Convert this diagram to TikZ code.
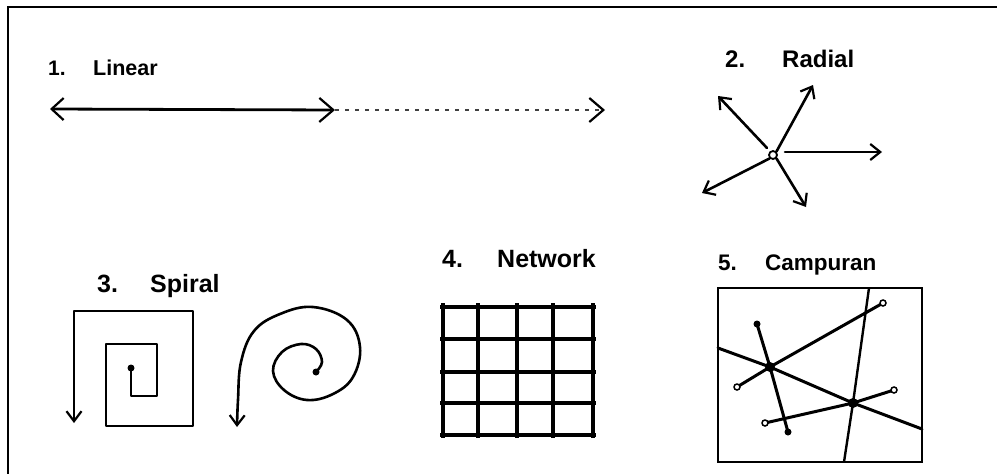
\documentclass[tikz,border=0pt]{standalone}
\usepackage{fontspec}
\setmainfont{Liberation Sans}
\usetikzlibrary{arrows.meta}
\begin{document}
\begin{tikzpicture}[x=1pt,y=-1pt,
  lbl/.style={anchor=base west,inner sep=0pt,font=\bfseries\fontsize{#1}{#1}\selectfont},
  lbl/.default=22,
  ln/.style={line width=2.6pt,line cap=round,line join=round},
  barbtip/.style={-{Straight Barb[length=10pt,width=16pt,line width=2.2pt]}},
  netline/.style={line width=3.8pt},
  mixline/.style={line width=3pt,line cap=round},
  bigdot/.style={circle,fill=black,inner sep=0pt,minimum size=10pt},
  smalldot/.style={circle,fill=black,inner sep=0pt,minimum size=7pt},
  opendot/.style={circle,draw=black,fill=white,line width=1.5pt,inner sep=0pt,minimum size=6pt}
]
\useasboundingbox (0,0) rectangle (997,474);
% frame
\coordinate (F1) at (997,7);
\coordinate (F2) at (8,7);
\coordinate (F3) at (8,474);
\draw[line width=2.6pt] (F1) -- (F2) -- (F3);

% ---------- 1. Linear
\node[lbl=21] (n1) at (48,75) {1.};
\node[lbl=21.5] (t1) at (93,75) {Linear};
\coordinate (L0) at (50,109);
\coordinate (L1) at (335,110);
\coordinate (L2) at (605,110);
\draw[line width=2.8pt,{Straight Barb[length=12pt,width=22pt,line width=2.2pt]}-{Straight Barb[length=14pt,width=24pt,line width=2.2pt]}] (L0) -- (L1);
\draw[line width=2.6pt,black!75,dash pattern=on 3.5pt off 6.5pt,-{Straight Barb[length=14pt,width=24pt,line width=2.2pt,color=black]}] (L1) -- (L2);

% ---------- 2. Radial
\node[lbl=24] (n2) at (725,67) {2.};
\node[lbl=24] (t2) at (782,67) {Radial};
\node[circle,draw,line width=1.8pt,inner sep=0pt,minimum size=8pt] (C) at (773,155) {};
\coordinate (R1) at (718,96);
\coordinate (R2) at (813,85);
\coordinate (R3) at (882,152);
\coordinate (R4) at (702,193);
\coordinate (R5) at (806,207);
\draw[ln,barbtip] (767,148) -- (R1);
\draw[ln,barbtip] (C.north east) -- (R2);
\draw[ln,barbtip] (785,152) -- (R3);
\draw[ln,barbtip] (C.south west) -- (R4);
\draw[ln,barbtip] (C.south east) -- (R5);

% ---------- 3. Spiral
\node[lbl=25] (n3) at (97,292) {3.};
\node[lbl=25] (t3) at (150,292) {Spiral};
\node[smalldot] (S0) at (131,368) {};
\coordinate (S9) at (74,423);
\draw[ln,-{Straight Barb[length=10pt,width=15pt,line width=2.2pt]}] (S0.center) -- (131,396) -- (157,396) -- (157,344) -- (106,344) -- (106,426) -- (193,426) -- (193,311) -- (74,311) -- (S9);
\node[smalldot] (P0) at (316,372) {};
\coordinate (P9) at (237,427);
\draw[ln,-{Straight Barb[length=10pt,width=15pt,line width=2.2pt]}] plot[smooth,tension=0.65] coordinates {(316,372) (322,362) (316,349) (301,344) (282,352) (273,371) (284,390) (307,400) (333,394) (353,377) (360,347) (347,320) (313,307) (280,314) (254,331) (241,362) (238,400) (P9)};

% ---------- 4. Network
\node[lbl=25] (n4) at (442,267) {4.};
\node[lbl=25] (t4) at (497,267) {Network};
\foreach \x in {443,478,517,553,593} \draw[netline] (\x,303) -- (\x,438);
\foreach \y in {307,339,372,403,435} \draw[netline] (440,\y) -- (596,\y);

% ---------- 5. Campuran
\node[lbl=22.5] (n5) at (718,270) {5.};
\node[lbl=22.5] (t5) at (765,270) {Campuran};
\draw[line width=2.6pt] (718,288) rectangle (922,462);
\coordinate (M1) at (718,348);
\coordinate (M2) at (922,429);
\coordinate (M3) at (869,288);
\coordinate (M4) at (844,462);
\node[bigdot] (A) at (770,367) {};
\node[bigdot] (B) at (853,403) {};
\node[smalldot] (D1) at (757,324) {};
\node[smalldot] (D2) at (788,432) {};
\draw[mixline] (M1) -- (A.center) -- (B.center) -- (M2);
\draw[line width=2.4pt] (M3) -- (B.center) -- (M4);
\draw[mixline] (D1.center) -- (A.center) -- (D2.center);
\coordinate (O1c) at (883,303);
\coordinate (O2c) at (737,387);
\coordinate (O3c) at (894,390);
\coordinate (O4c) at (765,423);
\draw[mixline] (O2c) -- (A.center) -- (O1c);
\draw[mixline] (O4c) -- (B.center) -- (O3c);
\node[opendot] (O1) at (O1c) {};
\node[opendot] (O2) at (O2c) {};
\node[opendot] (O3) at (O3c) {};
\node[opendot] (O4) at (O4c) {};
\end{tikzpicture}
\end{document}
